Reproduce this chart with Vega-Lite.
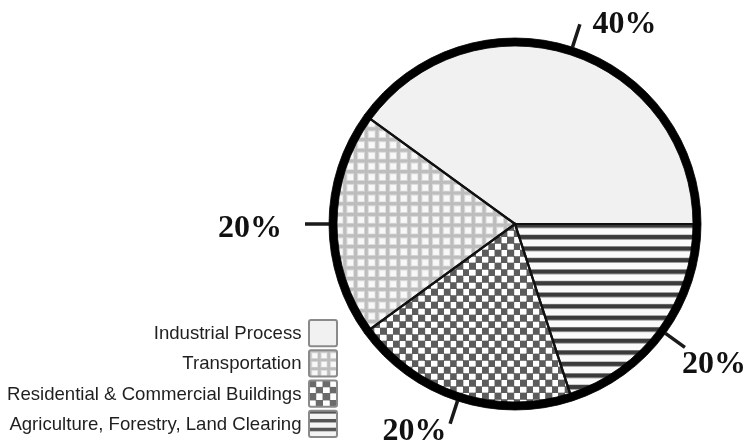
{
  "$schema": "https://vega.github.io/schema/vega-lite/v6.json",
  "background": "white",
  "padding": {"left": 6, "top": 0, "right": 0, "bottom": 0},
  "config": {"view": {"stroke": null}, "font": "Liberation Sans"},
  "data": {"values": [
    {"cat": "Agriculture, Forestry, Land Clearing", "value": 0.2},
    {"cat": "Residential & Commercial Buildings", "value": 0.2},
    {"cat": "Transportation", "value": 0.2},
    {"cat": "Industrial Process", "value": 0.4}
  ]},
  "spacing": 1,
  "bounds": "flush",
  "hconcat": [
    {
      "width": 28,
      "height": 437,
      "encoding": {
        "y": {
          "field": "cat",
          "type": "nominal",
          "sort": ["Industrial Process", "Transportation", "Residential & Commercial Buildings", "Agriculture, Forestry, Land Clearing"],
          "scale": {"domain": ["Industrial Process", "Transportation", "Residential & Commercial Buildings", "Agriculture, Forestry, Land Clearing"], "range": [320, 437], "paddingInner": 0.1333, "paddingOuter": 0},
          "axis": {"title": null, "domain": false, "ticks": false, "labelPadding": 8, "labelFontSize": 18.6, "labelFont": "Liberation Sans", "labelColor": "#1f1f1f", "labelLimit": 400}
        }
      },
      "layer": [
        {"transform": [{"filter": "datum.cat === 'Industrial Process'"}], "mark": {"type": "rect", "fill": "#f1f1f1"}},
        {"transform": [{"filter": "datum.cat === 'Transportation'"}], "mark": {"type": "rect", "fill": {"gradient": "linear", "x1": 0, "y1": 0, "x2": 0, "y2": 1, "stops": [
          {"offset": 0, "color": "#bdbdbd"}, {"offset": 0.0667, "color": "#bdbdbd"}, {"offset": 0.1333, "color": "#f8f8f8"}, {"offset": 0.2833, "color": "#f8f8f8"},
          {"offset": 0.3333, "color": "#bdbdbd"}, {"offset": 0.4, "color": "#bdbdbd"}, {"offset": 0.4667, "color": "#f8f8f8"}, {"offset": 0.6167, "color": "#f8f8f8"},
          {"offset": 0.6667, "color": "#bdbdbd"}, {"offset": 0.7333, "color": "#bdbdbd"}, {"offset": 0.8, "color": "#f8f8f8"}, {"offset": 0.95, "color": "#f8f8f8"},
          {"offset": 1, "color": "#bdbdbd"}]}}},
        {"transform": [{"filter": "datum.cat === 'Transportation'"}], "mark": {"type": "rect", "blend": "darken", "fill": {"gradient": "linear", "x1": 0, "y1": 0, "x2": 1, "y2": 0, "stops": [
          {"offset": 0, "color": "#bdbdbd"}, {"offset": 0.0667, "color": "#bdbdbd"}, {"offset": 0.1333, "color": "#f8f8f8"}, {"offset": 0.2833, "color": "#f8f8f8"},
          {"offset": 0.3333, "color": "#bdbdbd"}, {"offset": 0.4, "color": "#bdbdbd"}, {"offset": 0.4667, "color": "#f8f8f8"}, {"offset": 0.6167, "color": "#f8f8f8"},
          {"offset": 0.6667, "color": "#bdbdbd"}, {"offset": 0.7333, "color": "#bdbdbd"}, {"offset": 0.8, "color": "#f8f8f8"}, {"offset": 0.95, "color": "#f8f8f8"},
          {"offset": 1, "color": "#bdbdbd"}]}}},
        {"transform": [{"filter": "datum.cat === 'Residential & Commercial Buildings'"}], "mark": {"type": "rect", "fill": {"gradient": "linear", "x1": 0, "y1": 0, "x2": 0, "y2": 1, "stops": [
          {"offset": 0, "color": "#000000"}, {"offset": 0.225, "color": "#000000"}, {"offset": 0.275, "color": "#ffffff"}, {"offset": 0.475, "color": "#ffffff"},
          {"offset": 0.5, "color": "#000000"}, {"offset": 0.725, "color": "#000000"}, {"offset": 0.775, "color": "#ffffff"}, {"offset": 0.975, "color": "#ffffff"},
          {"offset": 1, "color": "#000000"}]}}},
        {"transform": [{"filter": "datum.cat === 'Residential & Commercial Buildings'"}], "mark": {"type": "rect", "blend": "difference", "fill": {"gradient": "linear", "x1": 0, "y1": 0, "x2": 1, "y2": 0, "stops": [
          {"offset": 0, "color": "#000000"}, {"offset": 0.225, "color": "#000000"}, {"offset": 0.275, "color": "#ffffff"}, {"offset": 0.475, "color": "#ffffff"},
          {"offset": 0.5, "color": "#000000"}, {"offset": 0.725, "color": "#000000"}, {"offset": 0.775, "color": "#ffffff"}, {"offset": 0.975, "color": "#ffffff"},
          {"offset": 1, "color": "#000000"}]}}},
        {"transform": [{"filter": "datum.cat === 'Residential & Commercial Buildings'"}], "mark": {"type": "rect", "blend": "lighten", "fill": "#6a6a6a"}},
        {"transform": [{"filter": "datum.cat === 'Agriculture, Forestry, Land Clearing'"}], "mark": {"type": "rect", "fill": {"gradient": "linear", "x1": 0, "y1": 0, "x2": 0, "y2": 1, "stops": [
          {"offset": 0, "color": "#555555"}, {"offset": 0.0833, "color": "#555555"}, {"offset": 0.14, "color": "#f4f4f4"}, {"offset": 0.2933, "color": "#f4f4f4"},
          {"offset": 0.3333, "color": "#555555"}, {"offset": 0.4167, "color": "#555555"}, {"offset": 0.4733, "color": "#f4f4f4"}, {"offset": 0.6267, "color": "#f4f4f4"},
          {"offset": 0.6667, "color": "#555555"}, {"offset": 0.75, "color": "#555555"}, {"offset": 0.8067, "color": "#f4f4f4"}, {"offset": 0.96, "color": "#f4f4f4"},
          {"offset": 1, "color": "#555555"}]}}},
        {"mark": {"type": "rect", "fill": "transparent", "stroke": "#8a8a8a", "strokeWidth": 2, "cornerRadius": 2}}
      ]
    },
    {
      "width": 354,
      "height": 448,
      "transform": [{"stack": "value", "groupby": [], "as": ["v0", "v1"]}],
      "layer": [
        {
          "encoding": {
            "theta": {"field": "v0", "type": "quantitative", "stack": null, "scale": {"domain": [0, 1], "range": [1.5707963, 7.8539816]}},
            "theta2": {"field": "v1"}
          },
          "layer": [
            {"transform": [{"filter": "datum.cat === 'Industrial Process'"}], "mark": {"type": "arc", "outerRadius": 182, "fill": "#f1f1f1"}},
            {"transform": [{"filter": "datum.cat === 'Transportation'"}], "mark": {"type": "arc", "outerRadius": 182, "fill": {"gradient": "linear", "x1": 0, "y1": 0, "x2": 0, "y2": 1, "stops": [
              {"offset": 0, "color": "#bdbdbd"}, {"offset": 0.01, "color": "#bdbdbd"}, {"offset": 0.02, "color": "#f8f8f8"}, {"offset": 0.0425, "color": "#f8f8f8"},
              {"offset": 0.05, "color": "#bdbdbd"}, {"offset": 0.06, "color": "#bdbdbd"}, {"offset": 0.07, "color": "#f8f8f8"}, {"offset": 0.0925, "color": "#f8f8f8"},
              {"offset": 0.1, "color": "#bdbdbd"}, {"offset": 0.11, "color": "#bdbdbd"}, {"offset": 0.12, "color": "#f8f8f8"}, {"offset": 0.1425, "color": "#f8f8f8"},
              {"offset": 0.15, "color": "#bdbdbd"}, {"offset": 0.16, "color": "#bdbdbd"}, {"offset": 0.17, "color": "#f8f8f8"}, {"offset": 0.1925, "color": "#f8f8f8"},
              {"offset": 0.2, "color": "#bdbdbd"}, {"offset": 0.21, "color": "#bdbdbd"}, {"offset": 0.22, "color": "#f8f8f8"}, {"offset": 0.2425, "color": "#f8f8f8"},
              {"offset": 0.25, "color": "#bdbdbd"}, {"offset": 0.26, "color": "#bdbdbd"}, {"offset": 0.27, "color": "#f8f8f8"}, {"offset": 0.2925, "color": "#f8f8f8"},
              {"offset": 0.3, "color": "#bdbdbd"}, {"offset": 0.31, "color": "#bdbdbd"}, {"offset": 0.32, "color": "#f8f8f8"}, {"offset": 0.3425, "color": "#f8f8f8"},
              {"offset": 0.35, "color": "#bdbdbd"}, {"offset": 0.36, "color": "#bdbdbd"}, {"offset": 0.37, "color": "#f8f8f8"}, {"offset": 0.3925, "color": "#f8f8f8"},
              {"offset": 0.4, "color": "#bdbdbd"}, {"offset": 0.41, "color": "#bdbdbd"}, {"offset": 0.42, "color": "#f8f8f8"}, {"offset": 0.4425, "color": "#f8f8f8"},
              {"offset": 0.45, "color": "#bdbdbd"}, {"offset": 0.46, "color": "#bdbdbd"}, {"offset": 0.47, "color": "#f8f8f8"}, {"offset": 0.4925, "color": "#f8f8f8"},
              {"offset": 0.5, "color": "#bdbdbd"}, {"offset": 0.51, "color": "#bdbdbd"}, {"offset": 0.52, "color": "#f8f8f8"}, {"offset": 0.5425, "color": "#f8f8f8"},
              {"offset": 0.55, "color": "#bdbdbd"}, {"offset": 0.56, "color": "#bdbdbd"}, {"offset": 0.57, "color": "#f8f8f8"}, {"offset": 0.5925, "color": "#f8f8f8"},
              {"offset": 0.6, "color": "#bdbdbd"}, {"offset": 0.61, "color": "#bdbdbd"}, {"offset": 0.62, "color": "#f8f8f8"}, {"offset": 0.6425, "color": "#f8f8f8"},
              {"offset": 0.65, "color": "#bdbdbd"}, {"offset": 0.66, "color": "#bdbdbd"}, {"offset": 0.67, "color": "#f8f8f8"}, {"offset": 0.6925, "color": "#f8f8f8"},
              {"offset": 0.7, "color": "#bdbdbd"}, {"offset": 0.71, "color": "#bdbdbd"}, {"offset": 0.72, "color": "#f8f8f8"}, {"offset": 0.7425, "color": "#f8f8f8"},
              {"offset": 0.75, "color": "#bdbdbd"}, {"offset": 0.76, "color": "#bdbdbd"}, {"offset": 0.77, "color": "#f8f8f8"}, {"offset": 0.7925, "color": "#f8f8f8"},
              {"offset": 0.8, "color": "#bdbdbd"}, {"offset": 0.81, "color": "#bdbdbd"}, {"offset": 0.82, "color": "#f8f8f8"}, {"offset": 0.8425, "color": "#f8f8f8"},
              {"offset": 0.85, "color": "#bdbdbd"}, {"offset": 0.86, "color": "#bdbdbd"}, {"offset": 0.87, "color": "#f8f8f8"}, {"offset": 0.8925, "color": "#f8f8f8"},
              {"offset": 0.9, "color": "#bdbdbd"}, {"offset": 0.91, "color": "#bdbdbd"}, {"offset": 0.92, "color": "#f8f8f8"}, {"offset": 0.9425, "color": "#f8f8f8"},
              {"offset": 0.95, "color": "#bdbdbd"}, {"offset": 0.96, "color": "#bdbdbd"}, {"offset": 0.97, "color": "#f8f8f8"}, {"offset": 0.9925, "color": "#f8f8f8"},
              {"offset": 1, "color": "#bdbdbd"}]}}},
            {"transform": [{"filter": "datum.cat === 'Transportation'"}], "mark": {"type": "arc", "outerRadius": 182, "blend": "darken", "fill": {"gradient": "linear", "x1": 0, "y1": 0, "x2": 1, "y2": 0, "stops": [
              {"offset": 0, "color": "#bdbdbd"}, {"offset": 0.0118, "color": "#bdbdbd"}, {"offset": 0.0235, "color": "#f8f8f8"}, {"offset": 0.05, "color": "#f8f8f8"},
              {"offset": 0.0588, "color": "#bdbdbd"}, {"offset": 0.0706, "color": "#bdbdbd"}, {"offset": 0.0824, "color": "#f8f8f8"}, {"offset": 0.1088, "color": "#f8f8f8"},
              {"offset": 0.1176, "color": "#bdbdbd"}, {"offset": 0.1294, "color": "#bdbdbd"}, {"offset": 0.1412, "color": "#f8f8f8"}, {"offset": 0.1676, "color": "#f8f8f8"},
              {"offset": 0.1765, "color": "#bdbdbd"}, {"offset": 0.1882, "color": "#bdbdbd"}, {"offset": 0.2, "color": "#f8f8f8"}, {"offset": 0.2265, "color": "#f8f8f8"},
              {"offset": 0.2353, "color": "#bdbdbd"}, {"offset": 0.2471, "color": "#bdbdbd"}, {"offset": 0.2588, "color": "#f8f8f8"}, {"offset": 0.2853, "color": "#f8f8f8"},
              {"offset": 0.2941, "color": "#bdbdbd"}, {"offset": 0.3059, "color": "#bdbdbd"}, {"offset": 0.3176, "color": "#f8f8f8"}, {"offset": 0.3441, "color": "#f8f8f8"},
              {"offset": 0.3529, "color": "#bdbdbd"}, {"offset": 0.3647, "color": "#bdbdbd"}, {"offset": 0.3765, "color": "#f8f8f8"}, {"offset": 0.4029, "color": "#f8f8f8"},
              {"offset": 0.4118, "color": "#bdbdbd"}, {"offset": 0.4235, "color": "#bdbdbd"}, {"offset": 0.4353, "color": "#f8f8f8"}, {"offset": 0.4618, "color": "#f8f8f8"},
              {"offset": 0.4706, "color": "#bdbdbd"}, {"offset": 0.4824, "color": "#bdbdbd"}, {"offset": 0.4941, "color": "#f8f8f8"}, {"offset": 0.5206, "color": "#f8f8f8"},
              {"offset": 0.5294, "color": "#bdbdbd"}, {"offset": 0.5412, "color": "#bdbdbd"}, {"offset": 0.5529, "color": "#f8f8f8"}, {"offset": 0.5794, "color": "#f8f8f8"},
              {"offset": 0.5882, "color": "#bdbdbd"}, {"offset": 0.6, "color": "#bdbdbd"}, {"offset": 0.6118, "color": "#f8f8f8"}, {"offset": 0.6382, "color": "#f8f8f8"},
              {"offset": 0.6471, "color": "#bdbdbd"}, {"offset": 0.6588, "color": "#bdbdbd"}, {"offset": 0.6706, "color": "#f8f8f8"}, {"offset": 0.6971, "color": "#f8f8f8"},
              {"offset": 0.7059, "color": "#bdbdbd"}, {"offset": 0.7176, "color": "#bdbdbd"}, {"offset": 0.7294, "color": "#f8f8f8"}, {"offset": 0.7559, "color": "#f8f8f8"},
              {"offset": 0.7647, "color": "#bdbdbd"}, {"offset": 0.7765, "color": "#bdbdbd"}, {"offset": 0.7882, "color": "#f8f8f8"}, {"offset": 0.8147, "color": "#f8f8f8"},
              {"offset": 0.8235, "color": "#bdbdbd"}, {"offset": 0.8353, "color": "#bdbdbd"}, {"offset": 0.8471, "color": "#f8f8f8"}, {"offset": 0.8735, "color": "#f8f8f8"},
              {"offset": 0.8824, "color": "#bdbdbd"}, {"offset": 0.8941, "color": "#bdbdbd"}, {"offset": 0.9059, "color": "#f8f8f8"}, {"offset": 0.9324, "color": "#f8f8f8"},
              {"offset": 0.9412, "color": "#bdbdbd"}, {"offset": 0.9529, "color": "#bdbdbd"}, {"offset": 0.9647, "color": "#f8f8f8"}, {"offset": 0.9912, "color": "#f8f8f8"},
              {"offset": 1, "color": "#bdbdbd"}]}}},
            {"transform": [{"filter": "datum.cat === 'Residential & Commercial Buildings'"}], "mark": {"type": "arc", "outerRadius": 182, "fill": {"gradient": "linear", "x1": 0, "y1": 0, "x2": 0, "y2": 1, "stops": [
              {"offset": 0, "color": "#000000"}, {"offset": 0.0321, "color": "#000000"}, {"offset": 0.0393, "color": "#ffffff"}, {"offset": 0.0679, "color": "#ffffff"},
              {"offset": 0.0714, "color": "#000000"}, {"offset": 0.1036, "color": "#000000"}, {"offset": 0.1107, "color": "#ffffff"}, {"offset": 0.1393, "color": "#ffffff"},
              {"offset": 0.1429, "color": "#000000"}, {"offset": 0.175, "color": "#000000"}, {"offset": 0.1821, "color": "#ffffff"}, {"offset": 0.2107, "color": "#ffffff"},
              {"offset": 0.2143, "color": "#000000"}, {"offset": 0.2464, "color": "#000000"}, {"offset": 0.2536, "color": "#ffffff"}, {"offset": 0.2821, "color": "#ffffff"},
              {"offset": 0.2857, "color": "#000000"}, {"offset": 0.3179, "color": "#000000"}, {"offset": 0.325, "color": "#ffffff"}, {"offset": 0.3536, "color": "#ffffff"},
              {"offset": 0.3571, "color": "#000000"}, {"offset": 0.3893, "color": "#000000"}, {"offset": 0.3964, "color": "#ffffff"}, {"offset": 0.425, "color": "#ffffff"},
              {"offset": 0.4286, "color": "#000000"}, {"offset": 0.4607, "color": "#000000"}, {"offset": 0.4679, "color": "#ffffff"}, {"offset": 0.4964, "color": "#ffffff"},
              {"offset": 0.5, "color": "#000000"}, {"offset": 0.5321, "color": "#000000"}, {"offset": 0.5393, "color": "#ffffff"}, {"offset": 0.5679, "color": "#ffffff"},
              {"offset": 0.5714, "color": "#000000"}, {"offset": 0.6036, "color": "#000000"}, {"offset": 0.6107, "color": "#ffffff"}, {"offset": 0.6393, "color": "#ffffff"},
              {"offset": 0.6429, "color": "#000000"}, {"offset": 0.675, "color": "#000000"}, {"offset": 0.6821, "color": "#ffffff"}, {"offset": 0.7107, "color": "#ffffff"},
              {"offset": 0.7143, "color": "#000000"}, {"offset": 0.7464, "color": "#000000"}, {"offset": 0.7536, "color": "#ffffff"}, {"offset": 0.7821, "color": "#ffffff"},
              {"offset": 0.7857, "color": "#000000"}, {"offset": 0.8179, "color": "#000000"}, {"offset": 0.825, "color": "#ffffff"}, {"offset": 0.8536, "color": "#ffffff"},
              {"offset": 0.8571, "color": "#000000"}, {"offset": 0.8893, "color": "#000000"}, {"offset": 0.8964, "color": "#ffffff"}, {"offset": 0.925, "color": "#ffffff"},
              {"offset": 0.9286, "color": "#000000"}, {"offset": 0.9607, "color": "#000000"}, {"offset": 0.9679, "color": "#ffffff"}, {"offset": 0.9964, "color": "#ffffff"},
              {"offset": 1, "color": "#000000"}]}}},
            {"transform": [{"filter": "datum.cat === 'Residential & Commercial Buildings'"}], "mark": {"type": "arc", "outerRadius": 182, "blend": "difference", "fill": {"gradient": "linear", "x1": 0, "y1": 0, "x2": 1, "y2": 0, "stops": [
              {"offset": 0, "color": "#000000"}, {"offset": 0.0281, "color": "#000000"}, {"offset": 0.0344, "color": "#ffffff"}, {"offset": 0.0594, "color": "#ffffff"},
              {"offset": 0.0625, "color": "#000000"}, {"offset": 0.0906, "color": "#000000"}, {"offset": 0.0969, "color": "#ffffff"}, {"offset": 0.1219, "color": "#ffffff"},
              {"offset": 0.125, "color": "#000000"}, {"offset": 0.1531, "color": "#000000"}, {"offset": 0.1594, "color": "#ffffff"}, {"offset": 0.1844, "color": "#ffffff"},
              {"offset": 0.1875, "color": "#000000"}, {"offset": 0.2156, "color": "#000000"}, {"offset": 0.2219, "color": "#ffffff"}, {"offset": 0.2469, "color": "#ffffff"},
              {"offset": 0.25, "color": "#000000"}, {"offset": 0.2781, "color": "#000000"}, {"offset": 0.2844, "color": "#ffffff"}, {"offset": 0.3094, "color": "#ffffff"},
              {"offset": 0.3125, "color": "#000000"}, {"offset": 0.3406, "color": "#000000"}, {"offset": 0.3469, "color": "#ffffff"}, {"offset": 0.3719, "color": "#ffffff"},
              {"offset": 0.375, "color": "#000000"}, {"offset": 0.4031, "color": "#000000"}, {"offset": 0.4094, "color": "#ffffff"}, {"offset": 0.4344, "color": "#ffffff"},
              {"offset": 0.4375, "color": "#000000"}, {"offset": 0.4656, "color": "#000000"}, {"offset": 0.4719, "color": "#ffffff"}, {"offset": 0.4969, "color": "#ffffff"},
              {"offset": 0.5, "color": "#000000"}, {"offset": 0.5281, "color": "#000000"}, {"offset": 0.5344, "color": "#ffffff"}, {"offset": 0.5594, "color": "#ffffff"},
              {"offset": 0.5625, "color": "#000000"}, {"offset": 0.5906, "color": "#000000"}, {"offset": 0.5969, "color": "#ffffff"}, {"offset": 0.6219, "color": "#ffffff"},
              {"offset": 0.625, "color": "#000000"}, {"offset": 0.6531, "color": "#000000"}, {"offset": 0.6594, "color": "#ffffff"}, {"offset": 0.6844, "color": "#ffffff"},
              {"offset": 0.6875, "color": "#000000"}, {"offset": 0.7156, "color": "#000000"}, {"offset": 0.7219, "color": "#ffffff"}, {"offset": 0.7469, "color": "#ffffff"},
              {"offset": 0.75, "color": "#000000"}, {"offset": 0.7781, "color": "#000000"}, {"offset": 0.7844, "color": "#ffffff"}, {"offset": 0.8094, "color": "#ffffff"},
              {"offset": 0.8125, "color": "#000000"}, {"offset": 0.8406, "color": "#000000"}, {"offset": 0.8469, "color": "#ffffff"}, {"offset": 0.8719, "color": "#ffffff"},
              {"offset": 0.875, "color": "#000000"}, {"offset": 0.9031, "color": "#000000"}, {"offset": 0.9094, "color": "#ffffff"}, {"offset": 0.9344, "color": "#ffffff"},
              {"offset": 0.9375, "color": "#000000"}, {"offset": 0.9656, "color": "#000000"}, {"offset": 0.9719, "color": "#ffffff"}, {"offset": 0.9969, "color": "#ffffff"},
              {"offset": 1, "color": "#000000"}]}}},
            {"transform": [{"filter": "datum.cat === 'Residential & Commercial Buildings'"}], "mark": {"type": "arc", "outerRadius": 182, "blend": "lighten", "fill": "#5c5c5c"}},
            {"transform": [{"filter": "datum.cat === 'Agriculture, Forestry, Land Clearing'"}], "mark": {"type": "arc", "outerRadius": 182, "fill": {"gradient": "linear", "x1": 0, "y1": 0, "x2": 0, "y2": 1, "stops": [
              {"offset": 0, "color": "#3a3a3a"}, {"offset": 0.0167, "color": "#3a3a3a"}, {"offset": 0.028, "color": "#fafafa"}, {"offset": 0.0587, "color": "#fafafa"},
              {"offset": 0.0667, "color": "#3a3a3a"}, {"offset": 0.0833, "color": "#3a3a3a"}, {"offset": 0.0947, "color": "#fafafa"}, {"offset": 0.1253, "color": "#fafafa"},
              {"offset": 0.1333, "color": "#3a3a3a"}, {"offset": 0.15, "color": "#3a3a3a"}, {"offset": 0.1613, "color": "#fafafa"}, {"offset": 0.192, "color": "#fafafa"},
              {"offset": 0.2, "color": "#3a3a3a"}, {"offset": 0.2167, "color": "#3a3a3a"}, {"offset": 0.228, "color": "#fafafa"}, {"offset": 0.2587, "color": "#fafafa"},
              {"offset": 0.2667, "color": "#3a3a3a"}, {"offset": 0.2833, "color": "#3a3a3a"}, {"offset": 0.2947, "color": "#fafafa"}, {"offset": 0.3253, "color": "#fafafa"},
              {"offset": 0.3333, "color": "#3a3a3a"}, {"offset": 0.35, "color": "#3a3a3a"}, {"offset": 0.3613, "color": "#fafafa"}, {"offset": 0.392, "color": "#fafafa"},
              {"offset": 0.4, "color": "#3a3a3a"}, {"offset": 0.4167, "color": "#3a3a3a"}, {"offset": 0.428, "color": "#fafafa"}, {"offset": 0.4587, "color": "#fafafa"},
              {"offset": 0.4667, "color": "#3a3a3a"}, {"offset": 0.4833, "color": "#3a3a3a"}, {"offset": 0.4947, "color": "#fafafa"}, {"offset": 0.5253, "color": "#fafafa"},
              {"offset": 0.5333, "color": "#3a3a3a"}, {"offset": 0.55, "color": "#3a3a3a"}, {"offset": 0.5613, "color": "#fafafa"}, {"offset": 0.592, "color": "#fafafa"},
              {"offset": 0.6, "color": "#3a3a3a"}, {"offset": 0.6167, "color": "#3a3a3a"}, {"offset": 0.628, "color": "#fafafa"}, {"offset": 0.6587, "color": "#fafafa"},
              {"offset": 0.6667, "color": "#3a3a3a"}, {"offset": 0.6833, "color": "#3a3a3a"}, {"offset": 0.6947, "color": "#fafafa"}, {"offset": 0.7253, "color": "#fafafa"},
              {"offset": 0.7333, "color": "#3a3a3a"}, {"offset": 0.75, "color": "#3a3a3a"}, {"offset": 0.7613, "color": "#fafafa"}, {"offset": 0.792, "color": "#fafafa"},
              {"offset": 0.8, "color": "#3a3a3a"}, {"offset": 0.8167, "color": "#3a3a3a"}, {"offset": 0.828, "color": "#fafafa"}, {"offset": 0.8587, "color": "#fafafa"},
              {"offset": 0.8667, "color": "#3a3a3a"}, {"offset": 0.8833, "color": "#3a3a3a"}, {"offset": 0.8947, "color": "#fafafa"}, {"offset": 0.9253, "color": "#fafafa"},
              {"offset": 0.9333, "color": "#3a3a3a"}, {"offset": 0.95, "color": "#3a3a3a"}, {"offset": 0.9613, "color": "#fafafa"}, {"offset": 0.992, "color": "#fafafa"},
              {"offset": 1, "color": "#3a3a3a"}]}}},
            {"mark": {"type": "arc", "outerRadius": 182, "fill": "transparent", "stroke": "#111111", "strokeWidth": 2.2}},
            {"mark": {"type": "arc", "innerRadius": 178, "outerRadius": 186, "fill": "#000000", "stroke": "#000000", "strokeWidth": 0.8}},
            {"mark": {"type": "arc", "innerRadius": 186, "outerRadius": 210, "padAngle": 3.14, "fill": "transparent", "stroke": "#1a1a1a", "strokeWidth": 3.5}}
          ]
        },
        {
          "mark": {"type": "text", "radius": 215, "font": "Liberation Serif", "fontWeight": "bold", "fontSize": 32, "fill": "#111111", "dx": 43, "dy": 3},
          "encoding": {
            "theta": {"field": "value", "type": "quantitative", "stack": true, "scale": {"domain": [0, 1], "range": [1.5707963, 7.8539816]}},
            "order": {"field": "v0", "type": "quantitative"},
            "text": {"condition": {"test": "datum.cat === 'Industrial Process'", "field": "value", "type": "quantitative", "format": ".0%"}, "value": ""}
          }
        },
        {
          "mark": {"type": "text", "radius": 215, "font": "Liberation Serif", "fontWeight": "bold", "fontSize": 32, "fill": "#111111", "dx": -50, "dy": 3},
          "encoding": {
            "theta": {"field": "value", "type": "quantitative", "stack": true, "scale": {"domain": [0, 1], "range": [1.5707963, 7.8539816]}},
            "order": {"field": "v0", "type": "quantitative"},
            "text": {"condition": {"test": "datum.cat === 'Transportation'", "field": "value", "type": "quantitative", "format": ".0%"}, "value": ""}
          }
        },
        {
          "mark": {"type": "text", "radius": 215, "font": "Liberation Serif", "fontWeight": "bold", "fontSize": 32, "fill": "#111111", "dx": -34, "dy": 2},
          "encoding": {
            "theta": {"field": "value", "type": "quantitative", "stack": true, "scale": {"domain": [0, 1], "range": [1.5707963, 7.8539816]}},
            "order": {"field": "v0", "type": "quantitative"},
            "text": {"condition": {"test": "datum.cat === 'Residential & Commercial Buildings'", "field": "value", "type": "quantitative", "format": ".0%"}, "value": ""}
          }
        },
        {
          "mark": {"type": "text", "radius": 215, "font": "Liberation Serif", "fontWeight": "bold", "fontSize": 32, "fill": "#111111", "dx": 25, "dy": 13},
          "encoding": {
            "theta": {"field": "value", "type": "quantitative", "stack": true, "scale": {"domain": [0, 1], "range": [1.5707963, 7.8539816]}},
            "order": {"field": "v0", "type": "quantitative"},
            "text": {"condition": {"test": "datum.cat === 'Agriculture, Forestry, Land Clearing'", "field": "value", "type": "quantitative", "format": ".0%"}, "value": ""}
          }
        }
      ]
    }
  ]
}
